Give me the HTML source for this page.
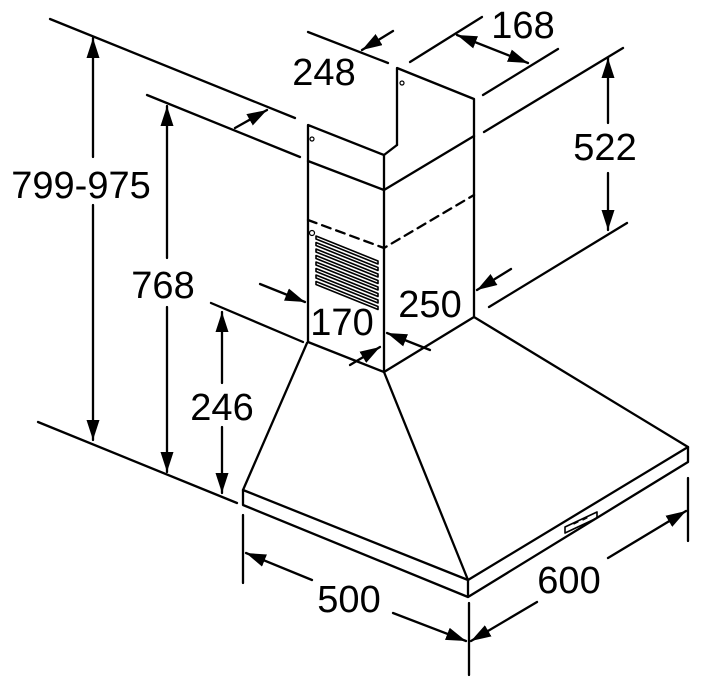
<!DOCTYPE html>
<html><head><meta charset="utf-8"><style>
html,body{margin:0;padding:0;background:#fff}
svg{display:block}
text{font-family:"Liberation Sans",Arial,sans-serif;font-size:38px;fill:#000}
</style></head><body>
<svg width="701" height="687" viewBox="0 0 701 687" xmlns="http://www.w3.org/2000/svg">
<defs>
<marker id="a" markerUnits="userSpaceOnUse" markerWidth="22" markerHeight="14" refX="20" refY="6.5" orient="auto-start-reverse">
<path d="M0,0 L20,6.5 L0,13 z" fill="#000"/>
</marker>
</defs>
<g stroke="#000" stroke-width="2.3" fill="none" stroke-linecap="round" stroke-linejoin="round">
<polyline points="397,145 397,68 474,99 474,316"/>
<polyline points="308,342 308,125 384,155 397,145"/>
<line x1="384" y1="155" x2="384" y2="372"/>
<polyline points="308,161 384,190 474,136"/>
<polyline points="308,220 384,248 474,195" stroke-dasharray="9,6"/>
<polyline points="308,342 384,372 474,317"/>
<circle cx="312" cy="233" r="2.5" stroke-width="1.2"/>
<circle cx="402" cy="83" r="2" stroke-width="1.2"/>
<circle cx="312" cy="139" r="2" stroke-width="1.2"/>
<g stroke-width="1.6">
<path d="M316,236 L378,261 L378,264 L316,239 Z"/>
<path d="M316,242.5 L378,267.5 L378,270.5 L316,245.5 Z"/>
<path d="M316,249 L378,274 L378,277 L316,252 Z"/>
<path d="M316,255.5 L378,280.5 L378,283.5 L316,258.5 Z"/>
<path d="M316,262 L378,287 L378,290 L316,265 Z"/>
<path d="M316,268.5 L378,293.5 L378,296.5 L316,271.5 Z"/>
<path d="M316,275 L378,300 L378,303 L316,278 Z"/>
<path d="M316,281.5 L378,306.5 L378,309.5 L316,284.5 Z"/>
</g>
<polyline points="307,343 243,490 468,580 688,447 474,317"/>
<line x1="384" y1="372" x2="468" y2="580"/>
<polyline points="243,490 243,505 468,597 688,462 688,447"/>
<line x1="468" y1="580" x2="468" y2="597"/>
<path d="M565,527 L597,512 L597,518 L565,533 Z" stroke-width="1.6"/>
<g stroke-width="1.2"><line x1="574" y1="524" x2="578" y2="522"/><line x1="583" y1="520" x2="587" y2="518"/></g>
<line x1="50" y1="19" x2="295" y2="118"/>
<line x1="147" y1="95" x2="300" y2="157"/>
<line x1="38" y1="422" x2="237" y2="503"/>
<line x1="211" y1="303" x2="303" y2="342"/>
<line x1="308" y1="32" x2="388" y2="63"/>
<line x1="410" y1="62" x2="482" y2="17"/>
<line x1="483" y1="95" x2="558" y2="49"/>
<line x1="484" y1="132" x2="623" y2="48"/>
<line x1="489" y1="307" x2="627" y2="223"/>
<line x1="243" y1="515" x2="243" y2="583"/>
<line x1="469" y1="603" x2="469" y2="675"/>
<line x1="688" y1="478" x2="688" y2="541"/>
<g marker-end="url(#a)">
<line x1="93" y1="157" x2="93" y2="38"/>
<line x1="93" y1="205" x2="93" y2="440"/>
<line x1="167" y1="258" x2="167" y2="106"/>
<line x1="167" y1="307" x2="167" y2="472"/>
<line x1="222" y1="383" x2="222" y2="312"/>
<line x1="222" y1="427" x2="222" y2="493"/>
<line x1="608" y1="123" x2="608" y2="58"/>
<line x1="608" y1="173" x2="608" y2="230"/>
<line x1="235" y1="128" x2="267" y2="110"/>
<line x1="393" y1="31" x2="362" y2="50"/>
<line x1="260" y1="284" x2="305" y2="302"/>
<line x1="350" y1="365" x2="380" y2="347"/>
<line x1="511" y1="269" x2="477" y2="290"/>
<line x1="430" y1="350" x2="387" y2="333"/>
<line x1="312" y1="580" x2="246" y2="553"/>
<line x1="393" y1="613" x2="466" y2="641"/>
<line x1="608" y1="558" x2="686" y2="511"/>
<line x1="537" y1="602" x2="471" y2="641"/>
</g>
<line x1="457" y1="35" x2="528" y2="63" marker-start="url(#a)" marker-end="url(#a)"/>
</g>
<text x="81" y="198" text-anchor="middle" font-size="39">799-975</text>
<text x="163" y="298" text-anchor="middle">768</text>
<text x="222" y="420" text-anchor="middle">246</text>
<text x="605" y="160" text-anchor="middle">522</text>
<text x="523" y="38" text-anchor="middle">168</text>
<text x="324" y="85" text-anchor="middle">248</text>
<text x="430" y="317" text-anchor="middle">250</text>
<text x="342" y="335" text-anchor="middle">170</text>
<text x="349" y="612" text-anchor="middle">500</text>
<text x="569" y="593" text-anchor="middle">600</text>
</svg>
</body></html>
